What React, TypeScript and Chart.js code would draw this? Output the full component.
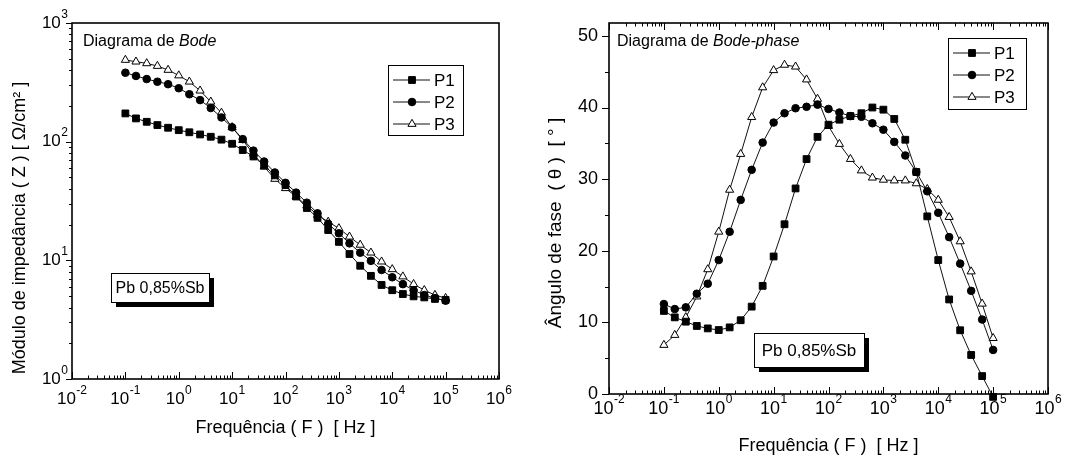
import React, { useEffect, useRef } from 'react';
import { Chart, registerables } from 'chart.js';

Chart.register(...registerables);

// ---------------- DATA ----------------
const frequencies = [
  0.1, 0.158, 0.251, 0.398, 0.631, 1, 1.58, 2.51, 3.98, 6.31,
  10, 15.8, 25.1, 39.8, 63.1, 100, 158, 251, 398, 631,
  1000, 1580, 2510, 3980, 6310, 10000, 15800, 25100, 39800, 63100, 100000,
];

const magP1 = [173, 157, 147, 138, 131, 125, 120, 115, 110, 104, 96, 85, 75, 63, 52, 43, 34.5, 27.6, 22.8, 18.0, 14.3, 11.3, 9.0, 7.4, 6.2, 5.6, 5.2, 4.97, 4.87, 4.73, 4.64];
const magP2 = [381, 358, 337, 320, 305, 282, 251, 224, 192, 160, 132, 105, 84, 68, 55, 45, 37.2, 30.6, 24.9, 20.3, 16.9, 13.9, 11.6, 9.9, 8.3, 7.2, 6.3, 5.6, 5.1, 4.8, 4.57];
const magP3 = [488, 472, 457, 434, 402, 361, 320, 269, 217, 175, 132, 103, 79, 61.5, 48.5, 40.5, 34.4, 28.9, 24.1, 21.1, 18.6, 15.8, 13.5, 11.6, 9.75, 8.4, 7.3, 6.3, 5.6, 5.1, 4.8];

const phaseP1 = [11.6, 10.7, 10.1, 9.5, 9.16, 8.93, 9.3, 10.3, 12.2, 15.1, 19.2, 23.7, 28.7, 32.8, 35.9, 37.6, 38.3, 38.8, 39.2, 40.0, 39.7, 38.4, 35.5, 31.0, 24.8, 18.7, 13.2, 8.9, 5.45, 2.5, -0.4];
const phaseP2 = [12.56, 11.86, 12.1, 14.0, 15.4, 18.7, 22.65, 27.1, 31.3, 35.1, 37.9, 39.2, 39.9, 40.1, 40.4, 39.8, 39.3, 38.8, 38.7, 37.8, 36.9, 35.2, 33.3, 31.0, 28.3, 25.3, 21.9, 18.2, 14.4, 10.4, 6.15];
const phaseP3 = [6.84, 8.23, 10.7, 13.6, 17.4, 22.65, 28.5, 33.5, 38.65, 42.8, 45.2, 45.95, 45.7, 43.9, 41.2, 37.4, 34.9, 32.8, 31.2, 30.2, 29.9, 29.8, 29.8, 29.4, 28.6, 27.1, 24.7, 21.3, 17.1, 12.6, 7.8];

const seriesLabels = ['P1', 'P2', 'P3'];
const xDecades = [-2, -1, 0, 1, 2, 3, 4, 5, 6];
const magDecades = [0, 1, 2, 3];
const phaseMajor = [0, 10, 20, 30, 40, 50];
const phaseMinor = [5, 15, 25, 35, 45];

const magTitle = 'Módulo de impedância ( Z ) [ Ω/cm² ]';
const phaseTitle = 'Ângulo de fase  ( θ )  [ ° ]';
const freqTitle = 'Frequência ( F )  [ Hz ]';
const sampleLabel = 'Pb 0,85%Sb';

// ---------------- STYLE ----------------
const FONT = '"Liberation Sans", Arial, Helvetica, sans-serif';
const markerStyles = [
  { pointStyle: 'rect', pointRadius: 4.8, bg: '#000' },
  { pointStyle: 'circle', pointRadius: 3.8, bg: '#000' },
  { pointStyle: 'triangle', pointRadius: 4.7, bg: '#fff' },
];

function makeDatasets(series: number[][]) {
  return series.map((ys, i) => ({
    label: seriesLabels[i],
    data: frequencies.map((f, j) => ({ x: f, y: ys[j] })),
    showLine: true,
    borderColor: '#111',
    borderWidth: 1,
    pointStyle: markerStyles[i].pointStyle,
    pointRadius: markerStyles[i].pointRadius,
    pointBackgroundColor: markerStyles[i].bg,
    pointBorderColor: '#000',
    pointBorderWidth: 1,
    clip: false,
  }));
}

function drawPow(ctx: CanvasRenderingContext2D, exp: string, x: number, y: number, align: 'center' | 'right', size: number) {
  const es = Math.round(size * 0.68);
  ctx.font = `${size}px ${FONT}`;
  const wb = ctx.measureText('10').width;
  ctx.font = `${es}px ${FONT}`;
  const we = ctx.measureText(exp).width;
  const total = wb + we + 0.5;
  const x0 = align === 'center' ? x - total / 2 : x - total;
  ctx.textAlign = 'left';
  ctx.textBaseline = 'middle';
  ctx.fillStyle = '#000';
  ctx.font = `${size}px ${FONT}`;
  ctx.fillText('10', x0, y);
  ctx.font = `${es}px ${FONT}`;
  ctx.fillText(exp, x0 + wb + 0.5, y - size * 0.5);
}

function drawMarker(ctx: CanvasRenderingContext2D, i: number, x: number, y: number) {
  ctx.save();
  ctx.lineWidth = 1;
  ctx.strokeStyle = '#000';
  const r = markerStyles[i].pointRadius;
  ctx.beginPath();
  if (i === 0) {
    const s = r * Math.SQRT1_2;
    ctx.rect(x - s, y - s, 2 * s, 2 * s);
    ctx.fillStyle = '#000';
  } else if (i === 1) {
    ctx.arc(x, y, r, 0, Math.PI * 2);
    ctx.fillStyle = '#000';
  } else {
    let a = 0;
    ctx.moveTo(x + Math.sin(a) * r, y - Math.cos(a) * r);
    a += (2 * Math.PI) / 3;
    ctx.lineTo(x + Math.sin(a) * r, y - Math.cos(a) * r);
    a += (2 * Math.PI) / 3;
    ctx.lineTo(x + Math.sin(a) * r, y - Math.cos(a) * r);
    ctx.closePath();
    ctx.fillStyle = '#fff';
  }
  ctx.fill();
  ctx.stroke();
  ctx.restore();
}

function drawLegend(ctx: CanvasRenderingContext2D, bx: number, by: number, bw: number, bh: number, first: number) {
  ctx.save();
  ctx.fillStyle = '#fff';
  ctx.fillRect(bx, by, bw, bh);
  ctx.strokeStyle = '#000';
  ctx.lineWidth = 1;
  ctx.strokeRect(bx + 0.5, by + 0.5, bw, bh);
  seriesLabels.forEach((lab, i) => {
    const y = by + first + i * 22;
    ctx.beginPath();
    ctx.strokeStyle = '#111';
    ctx.moveTo(bx + 5, y);
    ctx.lineTo(bx + 42, y);
    ctx.stroke();
    drawMarker(ctx, i, bx + 24, y);
    ctx.fillStyle = '#000';
    ctx.font = `17px ${FONT}`;
    ctx.textAlign = 'left';
    ctx.textBaseline = 'middle';
    ctx.fillText(lab, bx + 46, y + 1);
  });
  ctx.restore();
}

function drawSampleBox(ctx: CanvasRenderingContext2D, x: number, y: number, w: number, h: number, size: number) {
  ctx.save();
  ctx.fillStyle = '#000';
  ctx.fillRect(x + 5, y + 5, w, h);
  ctx.fillStyle = '#fff';
  ctx.fillRect(x, y, w, h);
  ctx.strokeStyle = '#000';
  ctx.lineWidth = 1;
  ctx.strokeRect(x + 0.5, y + 0.5, w, h);
  ctx.fillStyle = '#000';
  ctx.font = `${size}px ${FONT}`;
  ctx.textAlign = 'center';
  ctx.textBaseline = 'middle';
  ctx.fillText(sampleLabel, x + w / 2, y + h / 2 + 1);
  ctx.restore();
}

function drawHeading(ctx: CanvasRenderingContext2D, x: number, y: number, italic: string, size: number) {
  ctx.save();
  ctx.fillStyle = '#000';
  ctx.textAlign = 'left';
  ctx.textBaseline = 'middle';
  ctx.font = `${size}px ${FONT}`;
  const pre = 'Diagrama de ';
  ctx.fillText(pre, x, y);
  const w = ctx.measureText(pre).width;
  ctx.font = `italic ${size}px ${FONT}`;
  ctx.fillText(italic, x + w, y);
  ctx.restore();
}

type PanelCfg = {
  kind: 'mag' | 'phase';
  tickFont: number;
  titleFont: number;
  yTitleFont: number;
  xLabelOffset: number;
  yTitleX: number;
  yTitleY: number;
  xTitleY: number;
  legend: [number, number, number, number, number];
  sample: [number, number, number, number, number];
  heading: [number, number, string, number];
};

function makeFramePlugin(cfg: PanelCfg) {
  return {
    id: 'frameAxes',
    afterDraw(chart: any) {
      const { ctx, chartArea: a, scales } = chart;
      const xs = scales.x;
      const ys = scales.y;
      ctx.save();
      ctx.strokeStyle = '#000';
      ctx.lineWidth = 1.6;
      ctx.strokeRect(a.left, a.top, a.right - a.left, a.bottom - a.top);

      ctx.lineWidth = 1;
      const tickX = (v: number, len: number) => {
        const px = Math.round(xs.getPixelForValue(v)) + 0.5;
        ctx.beginPath();
        ctx.moveTo(px, a.bottom);
        ctx.lineTo(px, a.bottom - len);
        if (cfg.kind === 'phase') {
          ctx.moveTo(px, a.top);
          ctx.lineTo(px, a.top + len);
        }
        ctx.stroke();
      };
      xDecades.forEach((d) => {
        tickX(Math.pow(10, d), 7);
        if (d < 6) for (let m = 2; m <= 9; m++) tickX(m * Math.pow(10, d), 3.5);
      });
      xDecades.forEach((d) => {
        drawPow(ctx, String(d), xs.getPixelForValue(Math.pow(10, d)), a.bottom + cfg.xLabelOffset, 'center', cfg.tickFont);
      });

      const tickY = (v: number, len: number) => {
        const py = Math.round(ys.getPixelForValue(v)) + 0.5;
        ctx.beginPath();
        ctx.moveTo(a.left, py);
        ctx.lineTo(a.left - len, py);
        ctx.stroke();
      };
      if (cfg.kind === 'mag') {
        magDecades.forEach((d) => {
          tickY(Math.pow(10, d), 6);
          if (d < 3) for (let m = 2; m <= 9; m++) tickY(m * Math.pow(10, d), 3);
          drawPow(ctx, String(d), a.left - 4, ys.getPixelForValue(Math.pow(10, d)), 'right', cfg.tickFont);
        });
      } else {
        phaseMajor.forEach((v) => {
          tickY(v, 7);
          ctx.fillStyle = '#000';
          ctx.font = `${cfg.tickFont}px ${FONT}`;
          ctx.textAlign = 'right';
          ctx.textBaseline = 'middle';
          ctx.fillText(String(v), a.left - 11, ys.getPixelForValue(v));
        });
        phaseMinor.forEach((v) => tickY(v, 4));
      }

      ctx.fillStyle = '#000';
      ctx.font = `${cfg.titleFont}px ${FONT}`;
      ctx.textAlign = 'center';
      ctx.textBaseline = 'middle';
      ctx.fillText(freqTitle, (a.left + a.right) / 2, cfg.xTitleY);
      ctx.save();
      ctx.font = `${cfg.yTitleFont}px ${FONT}`;
      ctx.translate(cfg.yTitleX, cfg.yTitleY);
      ctx.rotate(-Math.PI / 2);
      ctx.fillText(cfg.kind === 'mag' ? magTitle : phaseTitle, 0, 0);
      ctx.restore();

      drawHeading(ctx, cfg.heading[0], cfg.heading[1], cfg.heading[2], cfg.heading[3]);
      const [lx, ly, lw, lh, lf] = cfg.legend;
      drawLegend(ctx, lx, ly, lw, lh, lf);
      const [sx, sy, sw, sh, sf] = cfg.sample;
      drawSampleBox(ctx, sx, sy, sw, sh, sf);
      ctx.restore();
    },
  };
}

function makeConfig(series: number[][], yType: 'logarithmic' | 'linear', yMin: number, yMax: number, padding: any, cfg: PanelCfg) {
  return {
    type: 'scatter' as const,
    data: { datasets: makeDatasets(series) as any },
    options: {
      responsive: false,
      animation: false as const,
      layout: { padding },
      plugins: { legend: { display: false }, tooltip: { enabled: false } },
      scales: {
        x: { type: 'logarithmic' as const, min: 0.01, max: 1e6, display: false },
        y: { type: yType, min: yMin, max: yMax, display: false },
      },
    },
    plugins: [makeFramePlugin(cfg)],
  };
}

export default function App() {
  const leftRef = useRef<HTMLCanvasElement>(null);
  const rightRef = useRef<HTMLCanvasElement>(null);

  useEffect(() => {
    const left = new Chart(
      leftRef.current!,
      makeConfig([magP1, magP2, magP3], 'logarithmic', 1, 1000, { left: 72, right: 41, top: 23, bottom: 81 }, {
        kind: 'mag',
        tickFont: 17,
        titleFont: 18,
        yTitleFont: 18,
        xLabelOffset: 20,
        yTitleX: 20,
        yTitleY: 228,
        xTitleY: 428,
        legend: [388, 65, 75, 70, 15],
        sample: [111, 273, 98, 29, 16],
        heading: [83, 42, 'Bode', 16],
      }) as any
    );
    const right = new Chart(
      rightRef.current!,
      makeConfig([phaseP1, phaseP2, phaseP3], 'linear', 0, 51.8, { left: 69, right: 33, top: 23, bottom: 66 }, {
        kind: 'phase',
        tickFont: 18,
        titleFont: 18,
        yTitleFont: 19,
        xLabelOffset: 15,
        yTitleX: 16,
        yTitleY: 223,
        xTitleY: 446,
        legend: [408, 38, 78, 71, 15],
        sample: [214, 333, 110, 34, 17],
        heading: [77, 42, 'Bode-phase', 16],
      }) as any
    );
    return () => {
      left.destroy();
      right.destroy();
    };
  }, []);

  return (
    <div style={{ position: 'fixed', left: 0, top: 0, width: 1081, height: 460, background: '#fff' }}>
      <canvas ref={leftRef} width={540} height={460} style={{ position: 'absolute', left: 0, top: 0 }} />
      <canvas ref={rightRef} width={541} height={460} style={{ position: 'absolute', left: 540, top: 0 }} />
    </div>
  );
}
